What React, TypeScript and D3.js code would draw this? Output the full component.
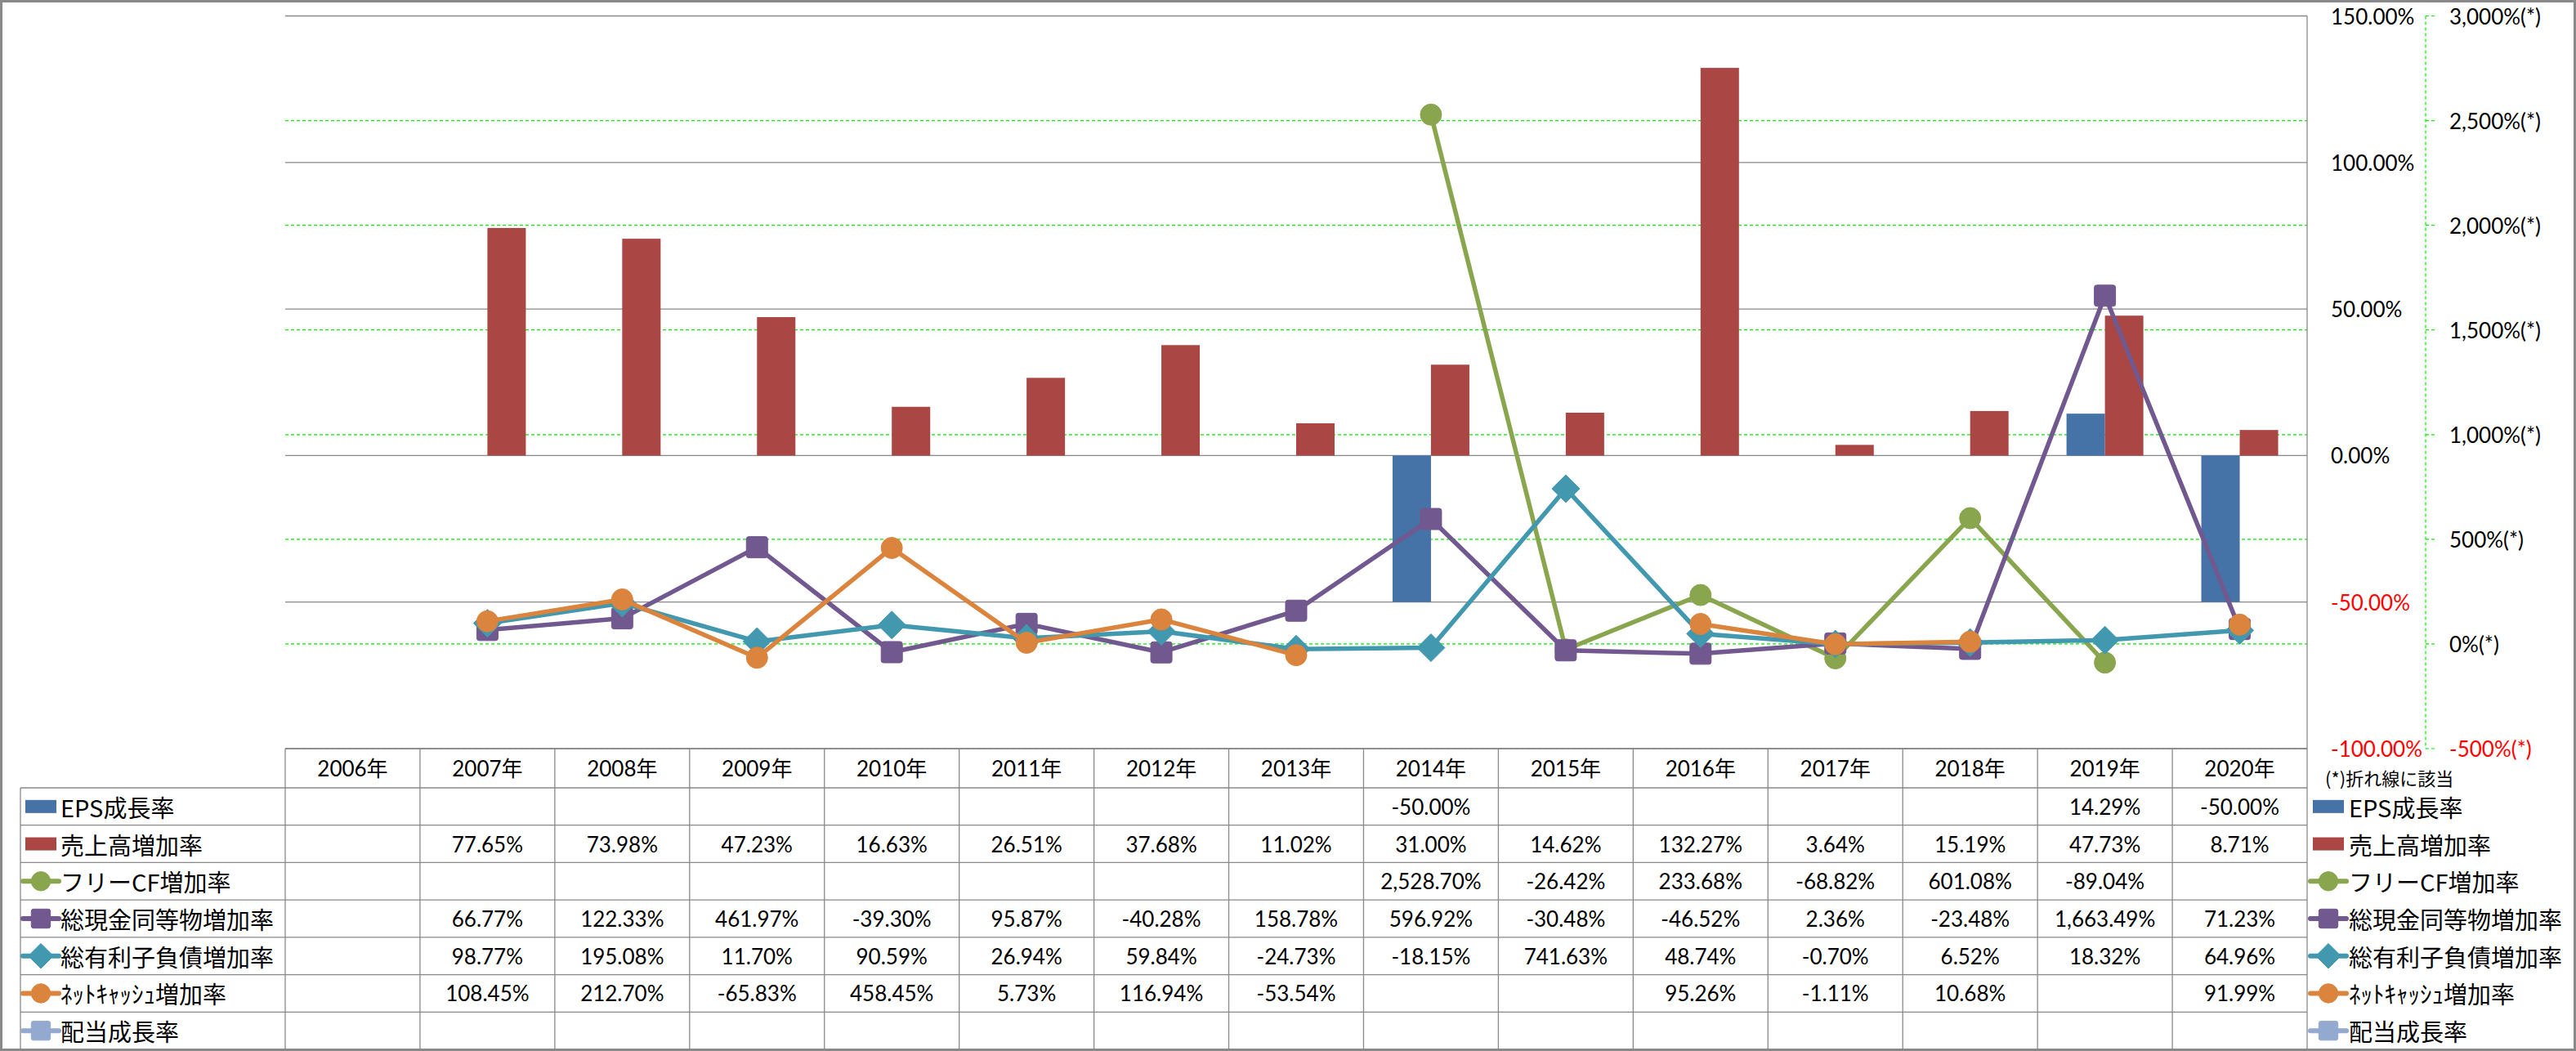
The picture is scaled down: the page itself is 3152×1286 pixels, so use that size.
import React from 'react';
import * as d3 from 'd3';

const years = ['2006年','2007年','2008年','2009年','2010年','2011年','2012年','2013年','2014年','2015年','2016年','2017年','2018年','2019年','2020年'];
const epsGrowth: (number|null)[] = [null,null,null,null,null,null,null,null,-50.00,null,null,null,null,14.29,-50.00];
const salesGrowth: (number|null)[] = [null,77.65,73.98,47.23,16.63,26.51,37.68,11.02,31.00,14.62,132.27,3.64,15.19,47.73,8.71];
const fcfGrowth: (number|null)[] = [null,null,null,null,null,null,null,null,2528.70,-26.42,233.68,-68.82,601.08,-89.04,null];
const cashGrowth: (number|null)[] = [null,66.77,122.33,461.97,-39.30,95.87,-40.28,158.78,596.92,-30.48,-46.52,2.36,-23.48,1663.49,71.23];
const debtGrowth: (number|null)[] = [null,98.77,195.08,11.70,90.59,26.94,59.84,-24.73,-18.15,741.63,48.74,-0.70,6.52,18.32,64.96];
const netCashGrowth: (number|null)[] = [null,108.45,212.70,-65.83,458.45,5.73,116.94,-53.54,null,null,95.26,-1.11,10.68,null,91.99];
const dividendGrowth: (number|null)[] = [null,null,null,null,null,null,null,null,null,null,null,null,null,null,null];

const leftTicks = [150,100,50,0,-50,-100];
const rightTicks = [3000,2500,2000,1500,1000,500,0,-500];
const noteText = '(*)折れ線に該当';

type Series = { name: string; values: (number|null)[]; color: string; kind: 'bar'|'line'; marker?: 'circle'|'square'|'diamond' };
const series: Series[] = [
  { name: 'EPS成長率', values: epsGrowth, color: '#4572A7', kind: 'bar' },
  { name: '売上高増加率', values: salesGrowth, color: '#AA4643', kind: 'bar' },
  { name: 'フリーCF増加率', values: fcfGrowth, color: '#89A54E', kind: 'line', marker: 'circle' },
  { name: '総現金同等物増加率', values: cashGrowth, color: '#71588F', kind: 'line', marker: 'square' },
  { name: '総有利子負債増加率', values: debtGrowth, color: '#4198AF', kind: 'line', marker: 'diamond' },
  { name: 'ﾈｯﾄｷｬｯｼｭ増加率', values: netCashGrowth, color: '#DB843D', kind: 'line', marker: 'circle' },
  { name: '配当成長率', values: dividendGrowth, color: '#93A9CF', kind: 'line', marker: 'square' },
];

const W = 3152, H = 1286;
const plotL = 349, plotR = 2823, plotT = 19.5, plotB = 916;
const headerH = 48;
const rowH = (1284 - 964) / 7;
const tableLabelL = 25;
const GRID = '#898989';
const GREEN = '#00F000';
const FONT = "Lato, 'Noto Sans CJK JP', sans-serif";
const JFONT = "'Noto Sans CJK JP', sans-serif";

const locale = d3.formatLocale({ decimal: '.', thousands: ',', grouping: [3], currency: ['', ''], minus: '-' });
const fmt = locale.format(',.2f');
const fmtR = locale.format(',');

function Marker({ kind, x, y, color, s = 1 }: { kind: string; x: number; y: number; color: string; s?: number }) {
  if (kind === 'circle') return <circle cx={x} cy={y} r={13 * s} fill={color} stroke={color} strokeWidth={1} />;
  if (kind === 'square') { const h = 13 * s; return <rect x={x - h} y={y - h} width={2 * h} height={2 * h} rx={3 * s} fill={color} stroke={color} strokeWidth={1} />; }
  const h = 17 * s;
  return <path d={`M${x},${y - h}L${x + h},${y}L${x},${y + h}L${x - h},${y}Z`} fill={color} stroke={color} strokeWidth={1} strokeLinejoin="round" />;
}

function LegendSym({ s, x, y }: { s: Series; x: number; y: number }) {
  if (s.kind === 'bar') return <rect x={x + 3} y={y - 8} width={38} height={16} fill={s.color} />;
  return (
    <g>
      <line x1={x} y1={y} x2={x + 44} y2={y} stroke={s.color} strokeWidth={6} strokeLinecap="round" />
      <Marker kind={s.marker!} x={x + 22} y={y} color={s.color} s={0.9} />
    </g>
  );
}

export default function App() {
  const x = d3.scaleBand<string>().domain(years).range([plotL, plotR]).padding(0);
  const bw = x.bandwidth();
  const yL = d3.scaleLinear().domain([-100, 150]).range([plotB, plotT]);
  const yR = d3.scaleLinear().domain([-500, 3000]).range([plotB, plotT]);
  const barW = bw * 0.285;
  const cx = (i: number) => (x(years[i]) as number) + bw / 2;

  const line = d3.line<number|null>()
    .defined(d => d != null)
    .x((_, i) => cx(i))
    .y(d => yR(d as number));

  const lineSeries = series.filter(s => s.kind === 'line');
  const tableTop = plotB;
  const rowTop = tableTop + headerH;

  return (
    <svg width={W} height={H} style={{ position: 'absolute', left: 0, top: 0, background: '#fff' }} fontFamily={FONT}>
      <rect x={0} y={0} width={W} height={H} fill="#fff" />
      {rightTicks.map(t => (
        <line key={'g' + t} x1={plotL} x2={plotR} y1={yR(t)} y2={yR(t)} stroke={GREEN} strokeWidth={1.2} strokeDasharray="4 3" />
      ))}
      {leftTicks.map(t => (
        <line key={'l' + t} x1={plotL} x2={plotR} y1={yL(t)} y2={yL(t)} stroke={GRID} strokeWidth={1.3} />
      ))}
      <line x1={plotR} x2={plotR} y1={plotT} y2={plotB} stroke={GRID} strokeWidth={1.3} />

      {epsGrowth.map((v, i) => v == null ? null : (
        <rect key={'e' + i} x={cx(i) - barW} width={barW} y={Math.min(yL(v), yL(0))} height={Math.abs(yL(v) - yL(0))} fill={series[0].color} />
      ))}
      {salesGrowth.map((v, i) => v == null ? null : (
        <rect key={'s' + i} x={cx(i)} width={barW} y={Math.min(yL(v), yL(0))} height={Math.abs(yL(v) - yL(0))} fill={series[1].color} />
      ))}

      {lineSeries.map(s => (
        <g key={s.name}>
          <path d={line(s.values) || ''} fill="none" stroke={s.color} strokeWidth={5.5} strokeLinejoin="round" strokeLinecap="round" />
          {s.values.map((v, i) => v == null ? null : <Marker key={i} kind={s.marker!} x={cx(i)} y={yR(v)} color={s.color} />)}
        </g>
      ))}

      {leftTicks.map(t => (
        <text key={'lt' + t} x={2852} y={yL(t)} dominantBaseline="central" fontSize={26} fill={t < 0 ? '#FF0000' : '#000'}>{fmt(t)}%</text>
      ))}
      <line x1={2968} x2={2968} y1={plotT} y2={plotB} stroke={GREEN} strokeWidth={1.2} strokeDasharray="4 3" />
      {rightTicks.map(t => (
        <g key={'rt' + t}>
          <line x1={2968} x2={2979} y1={yR(t)} y2={yR(t)} stroke={GREEN} strokeWidth={1.2} strokeDasharray="4 3" />
          <text x={2997} y={yR(t)} dominantBaseline="central" fontSize={26} fill={t < 0 ? '#FF0000' : '#000'}>{fmtR(t)}%(*)</text>
        </g>
      ))}
      <text x={2845} y={951} dominantBaseline="central" fontSize={22} fontFamily={JFONT}>{noteText}</text>

      <line x1={plotL} x2={plotR} y1={tableTop} y2={tableTop} stroke={GRID} strokeWidth={1.3} />
      {d3.range(8).map(r => (
        <line key={'hr' + r} x1={tableLabelL} x2={plotR} y1={rowTop + r * rowH} y2={rowTop + r * rowH} stroke={GRID} strokeWidth={1.3} />
      ))}
      <line x1={tableLabelL} x2={tableLabelL} y1={rowTop} y2={H} stroke={GRID} strokeWidth={1.3} />
      {d3.range(years.length + 1).map(i => (
        <line key={'vc' + i} x1={plotL + i * bw} x2={plotL + i * bw} y1={tableTop} y2={H} stroke={GRID} strokeWidth={1.3} />
      ))}
      {years.map((yr, i) => (
        <text key={'yr' + i} x={cx(i)} y={tableTop + headerH / 2} textAnchor="middle" dominantBaseline="central" fontSize={26}>{yr}</text>
      ))}
      {series.map((s, r) => {
        const yc = rowTop + (r + 0.5) * rowH;
        return (
          <g key={'row' + r}>
            <LegendSym s={s} x={28} y={yc} />
            <text x={74} y={yc} dominantBaseline="central" fontSize={29} fontFamily={JFONT}>{s.name}</text>
            {s.values.map((v, i) => v == null ? null : (
              <text key={i} x={cx(i)} y={yc} textAnchor="middle" dominantBaseline="central" fontSize={26}>{fmt(v)}%</text>
            ))}
            <LegendSym s={s} x={2827} y={yc} />
            <text x={2874} y={yc} dominantBaseline="central" fontSize={29} fontFamily={JFONT}>{s.name}</text>
          </g>
        );
      })}

      <rect x={1.5} y={1.5} width={W - 3} height={H - 3} fill="none" stroke={GRID} strokeWidth={3} />
    </svg>
  );
}
